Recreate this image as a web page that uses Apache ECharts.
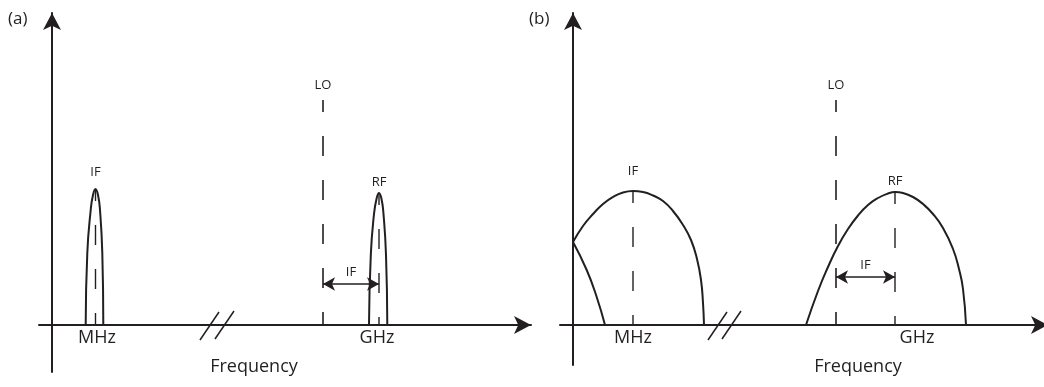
<!DOCTYPE html>
<html>
<head>
<meta charset="utf-8">
<script src="https://cdn.jsdelivr.net/npm/echarts@6/dist/echarts.min.js"></script>
<style>
  html, body { margin: 0; padding: 0; background: #ffffff; }
  #chart { width: 1044px; height: 387px; }
</style>
</head>
<body>
<div id="chart"></div>
<script>
// Mixer spectra sketch: amplitude against frequency, arbitrary units measured from each panel's origin.

// ---- panel (a): narrowband signals ----
const aBandTicks = [4.5, 32.5];
const aIFSpectrum = [[3.37, 0], [3.53, 7.2], [3.87, 11.5], [4.1, 13.0], [4.35, 13.6], [4.6, 13.0], [4.8, 11.5], [5.03, 7.2], [5.13, 0]];
const aRFSpectrum = [[31.7, 0], [31.88, 7.0], [32.2, 11.1], [32.45, 12.6], [32.7, 13.2], [32.95, 12.6], [33.15, 11.1], [33.4, 7.0], [33.53, 0]];
const aIFPeak = [4.35, 13.6];
const aRFPeak = [32.7, 13.2];
const aLO = [27.1, 22.5];          // LO frequency, marker height
const aIFSpanHeight = 4.1;         // height of the LO -> RF spacing arrow
const aBreak = [[[14.8, -1.5], [16.7, 1.3]], [[16.3, -1.4], [18.2, 1.4]]];

// ---- panel (b): wideband signals ----
const bBandTicks = [6.0, 34.4];
const bIFSpectrum = [[0, 8.3], [1, 9.9], [2, 11.1], [3, 12.1], [4, 12.8], [5, 13.25], [6, 13.4], [7, 13.3], [8, 12.95], [9, 12.4], [10, 11.4], [11, 10.0], [11.8, 8.5], [12.4, 6.6], [12.8, 4.5], [13.0, 2.2], [13.1, 0]];
const bIFImage = [[0, 8.3], [1.37, 5.5], [2.37, 2.8], [3.2, 0]];
const bRFSpectrum = [[23.3, 0], [24.5, 3.4], [25.5, 5.8], [26.5, 7.9], [27.5, 9.6], [28.5, 10.95], [29.5, 12.0], [30.5, 12.7], [31.5, 13.15], [32.2, 13.3], [33.0, 13.2], [34.0, 12.8], [35.0, 12.1], [36.0, 11.1], [37.0, 9.7], [38.0, 7.6], [38.6, 5.6], [39.0, 3.6], [39.3, 0]];
const bIFPeak = [6.0, 13.4];
const bRFPeak = [32.2, 13.3];
const bLO = [26.3, 22.5];
const bIFSpanHeight = 4.8;
const bBreak = [[[13.5, -1.5], [15.4, 1.3]], [[14.9, -1.4], [16.8, 1.4]]];

const bandLabels = ['MHz', 'GHz'];
const axisTitle = 'Frequency';
const panelTags = ['(a)', '(b)'];

// ---- styling ----
const INK = '#231f20';
const FONT = 'Open Sans';
const DASH = { type: [20, 24], dashOffset: 8 };

function axisFor(gi, min, max) {
  return {
    gridIndex: gi, type: 'value', min: min, max: max,
    axisLine: { onZero: true, symbol: ['none', 'arrow'], symbolSize: [13.5, 17], lineStyle: { color: INK, width: 2 } },
    axisTick: { show: false },
    splitLine: { show: false },
    axisLabel: { show: false }
  };
}

function curve(gi, pts) {
  return {
    type: 'line', xAxisIndex: gi, yAxisIndex: gi, data: pts,
    smooth: 0.5,
    symbol: 'none', silent: true,
    lineStyle: { color: INK, width: 2 }
  };
}

function textLabel(text, distance) {
  return { show: true, formatter: text, position: 'top', distance: distance, color: INK, fontFamily: FONT, fontSize: 13 };
}

// vertical dashed marker from a point down to the frequency axis, labelled at its top
function marker(gi, top, text, distance, width) {
  return {
    type: 'line', xAxisIndex: gi, yAxisIndex: gi, silent: true,
    symbol: 'circle', symbolSize: 0, showSymbol: true,
    itemStyle: { color: INK, opacity: 1 },
    lineStyle: Object.assign({ color: INK, width: width }, DASH),
    data: [{ value: top, label: textLabel(text, distance) }, [top[0], 0]]
  };
}

// LO marker carrying the LO -> RF spacing arrow
function loMarker(gi, lo, rfX, spanY, spanDistance) {
  const s = marker(gi, lo, 'LO', 8, 1.6);
  s.markLine = {
    silent: true, symbol: ['arrow', 'arrow'], symbolSize: [10, 12],
    lineStyle: { color: INK, width: 1.5, type: 'solid' },
    label: { show: true, formatter: 'IF', position: 'middle', distance: spanDistance, color: INK, fontFamily: FONT, fontSize: 13 },
    emphasis: { disabled: true },
    data: [[{ coord: [lo[0], spanY] }, { coord: [rfX, spanY] }]]
  };
  return s;
}

// band names written under the frequency axis
function bandNames(gi, ticks) {
  return {
    type: 'scatter', xAxisIndex: gi, yAxisIndex: gi, silent: true,
    symbolSize: 0,
    itemStyle: { color: INK, opacity: 1 },
    data: ticks.map(function (t, i) { return { value: [t, 0], name: bandLabels[i] }; }),
    label: { show: true, position: 'bottom', distance: 4, formatter: '{b}', color: INK, fontFamily: FONT, fontSize: 18 }
  };
}

function breakMarks(gi, marks) {
  return marks.map(function (m) {
    return {
      type: 'line', xAxisIndex: gi, yAxisIndex: gi, data: m, symbol: 'none', silent: true,
      lineStyle: { color: INK, width: 1.5 }
    };
  });
}

const tagFont = '17px "' + FONT + '"';
const titleFont = '18px "' + FONT + '"';

const option = {
  animation: false,
  backgroundColor: '#ffffff',
  grid: [
    { left: 39, top: 13, width: 492, height: 359, outerBoundsMode: 'none', containLabel: false },
    { left: 560, top: 13, width: 488, height: 352, outerBoundsMode: 'none', containLabel: false }
  ],
  xAxis: [
    axisFor(0, -1.3, 47.9),
    axisFor(1, -1.3, 47.5)
  ],
  yAxis: [
    axisFor(0, -4.7, 31.2),
    axisFor(1, -4.0, 31.2)
  ],
  graphic: [
    { type: 'text', x: 8, y: 19, style: { text: panelTags[0], fill: INK, font: tagFont, verticalAlign: 'middle' } },
    { type: 'text', x: 529, y: 19, style: { text: panelTags[1], fill: INK, font: tagFont, verticalAlign: 'middle' } },
    { type: 'text', x: 254, y: 367, style: { text: axisTitle, fill: INK, font: titleFont, align: 'center', verticalAlign: 'middle' } },
    { type: 'text', x: 858, y: 367, style: { text: axisTitle, fill: INK, font: titleFont, align: 'center', verticalAlign: 'middle' } }
  ],
  series: [
    curve(0, aIFSpectrum),
    curve(0, aRFSpectrum),
    marker(0, aIFPeak, 'IF', 10, 1.4),
    marker(0, aRFPeak, 'RF', 4, 1.4),
    loMarker(0, aLO, aRFPeak[0], aIFSpanHeight, 5),
    bandNames(0, aBandTicks),
    curve(1, bIFSpectrum),
    curve(1, bIFImage),
    curve(1, bRFSpectrum),
    marker(1, bIFPeak, 'IF', 13, 1.4),
    marker(1, bRFPeak, 'RF', 4, 1.4),
    loMarker(1, bLO, bRFPeak[0], bIFSpanHeight, 5),
    bandNames(1, bBandTicks)
  ].concat(breakMarks(0, aBreak), breakMarks(1, bBreak))
};

const chart = echarts.init(document.getElementById('chart'), null, { renderer: 'canvas' });
chart.setOption(option);
</script>
</body>
</html>
